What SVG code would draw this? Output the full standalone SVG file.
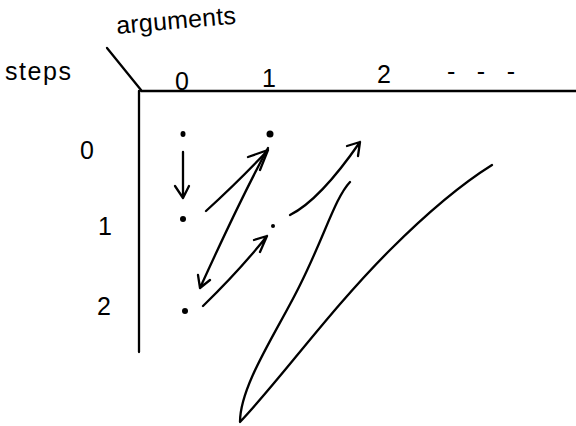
<svg xmlns="http://www.w3.org/2000/svg" width="576" height="426" viewBox="0 0 576 426">
<style>
.s{fill:none;stroke:#000;stroke-width:2.3;stroke-linecap:round;stroke-linejoin:round}
.t{font-family:"Liberation Sans",Arial,sans-serif;font-size:25px;fill:#000}
.d{fill:#000}
</style>
<rect width="576" height="426" fill="#fff"/>
<g id="axes">
<path class="s" d="M107,48 L141,90"/>
<path class="s" d="M141,91 L576,91"/>
<path class="s" d="M139,91 L139,352"/>
</g>
<g id="labels">
<text class="t" x="117" y="34" textLength="120" transform="rotate(-5 117 34)">arguments</text>
<text class="t" x="5" y="80" textLength="66">steps</text>
<text class="t" x="175" y="90">0</text>
<text class="t" x="262" y="87">1</text>
<text class="t" x="377" y="83">2</text>
<text class="t" x="447" y="80" textLength="68">- - -</text>
<text class="t" x="80" y="159">0</text>
<text class="t" x="98" y="235">1</text>
<text class="t" x="97" y="315">2</text>
</g>
<g id="dots">
<ellipse class="d" cx="183" cy="134" rx="2.5" ry="3"/>
<circle class="d" cx="270" cy="134" r="3.5"/>
<circle class="d" cx="183" cy="219" r="3"/>
<circle class="d" cx="273" cy="226" r="2"/>
<circle class="d" cx="185" cy="311" r="3"/>
</g>
<g id="connectors">
<path class="s" d="M183,152 L183,198 M175,186 L183,198 L189,186"/>
<path class="s" d="M206,211 Q240,180 268,150 M248,157 L268,150 L260,170"/>
<path class="s" d="M268,148 Q240,200 200,288 M198,275 L200,288 L210,280"/>
<path class="s" d="M203,306 Q240,270 267,236 M254,240 L267,236 L260,252"/>
<path class="s" d="M290,215 Q320,200 360,142 M347,146 L360,142 L358,156"/>
<path class="s" d="M350,182 C335,198 325,235 300,285 C278,330 240,385 240,422 C280,380 330,310 390,250 C430,210 460,185 492,165"/>
</g>
</svg>
